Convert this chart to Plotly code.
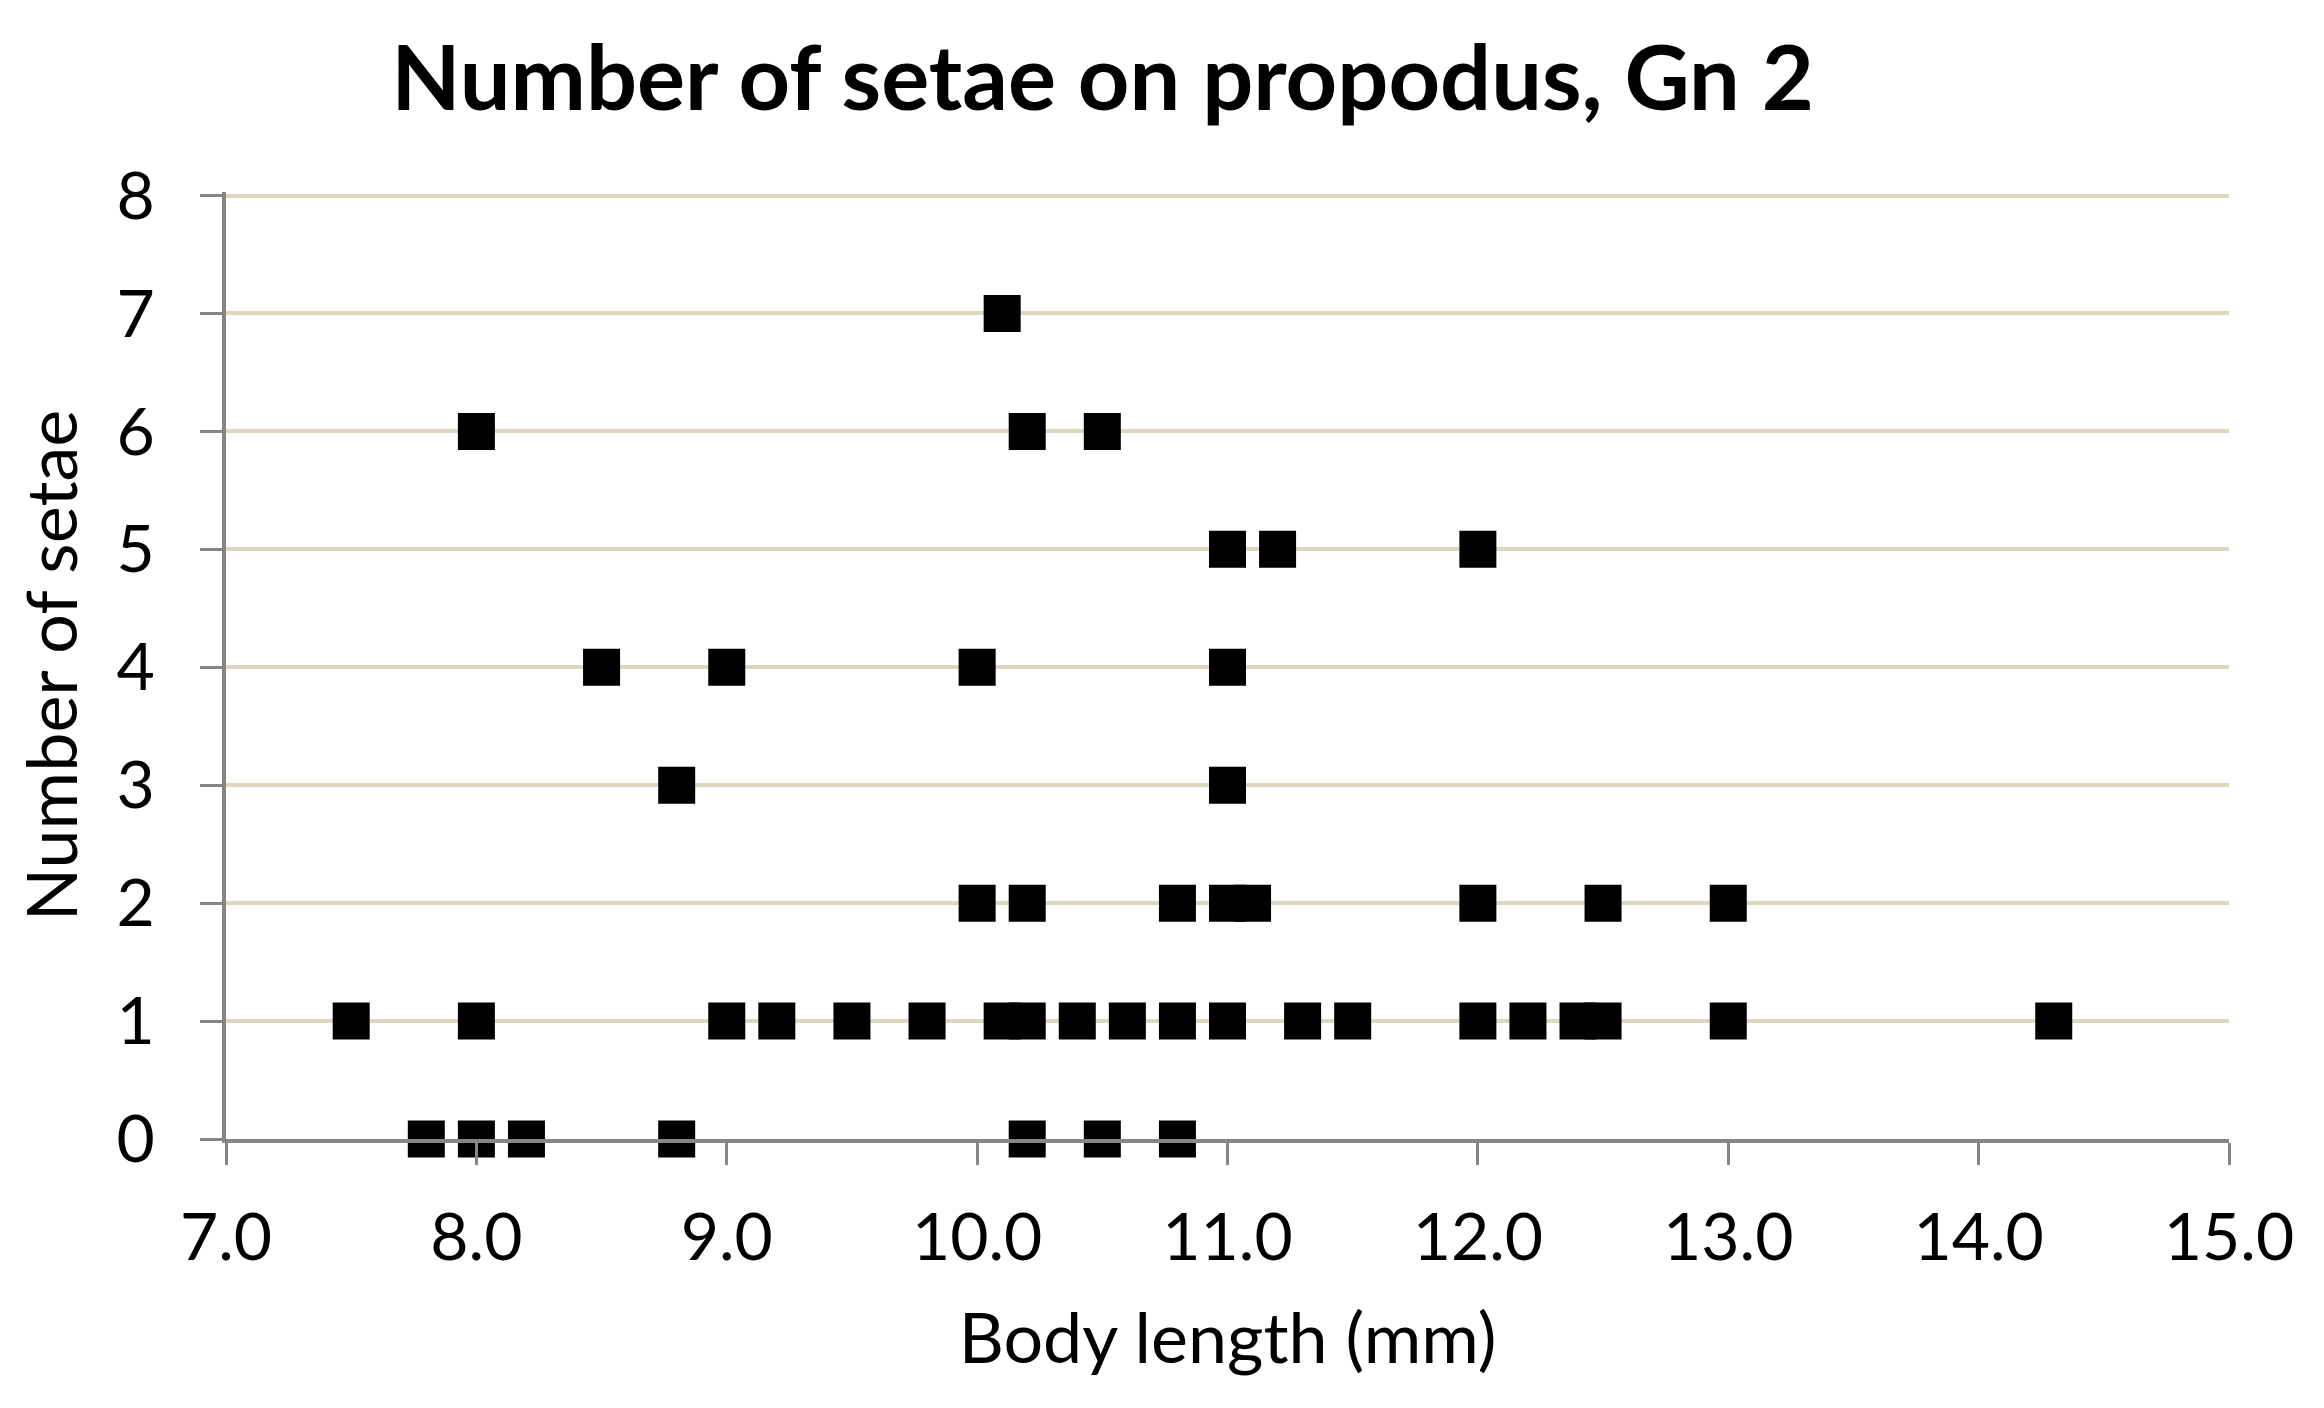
import plotly.graph_objects as go

# Data (body length in mm, number of setae)
setae_0_len = [7.8, 8.0, 8.2, 8.8, 10.2, 10.5, 10.8]
setae_1_len = [7.5, 8.0, 9.0, 9.2, 9.5, 9.8, 10.1, 10.2, 10.4, 10.6, 10.8, 11.0,
               11.3, 11.5, 12.0, 12.2, 12.4, 12.5, 13.0, 14.3]
setae_2_len = [10.0, 10.2, 10.8, 11.0, 11.1, 12.0, 12.5, 13.0]
setae_3_len = [8.8, 11.0]
setae_4_len = [8.5, 9.0, 10.0, 11.0]
setae_5_len = [11.0, 11.2, 12.0]
setae_6_len = [8.0, 10.2, 10.5]
setae_7_len = [10.1]

groups = [setae_0_len, setae_1_len, setae_2_len, setae_3_len,
          setae_4_len, setae_5_len, setae_6_len, setae_7_len]

body_length = []
n_setae = []
for count, lengths in enumerate(groups):
    for v in lengths:
        body_length.append(v)
        n_setae.append(count)

x_ticks = [7.0, 8.0, 9.0, 10.0, 11.0, 12.0, 13.0, 14.0, 15.0]
y_ticks = [0, 1, 2, 3, 4, 5, 6, 7, 8]

FONT = "Lato, Carlito, Open Sans, sans-serif"

fig = go.Figure()
fig.add_trace(go.Scatter(
    x=body_length, y=n_setae, mode="markers",
    marker=dict(symbol="square", size=34, color="black",
                line=dict(color="black", width=3)),
    cliponaxis=False, showlegend=False,
))

fig.update_layout(
    width=2324, height=1408,
    paper_bgcolor="white", plot_bgcolor="white",
    margin=dict(l=218, r=103, t=184, b=277),
    font=dict(family=FONT, color="black", size=66),
    title=dict(text="<b>Number of setae on propodus, Gn 2</b>",
               x=0.471, xanchor="center", y=0.950, yanchor="middle",
               font=dict(family=FONT, size=90, color="black")),
)

fig.update_xaxes(
    range=[7, 15], tickvals=x_ticks, ticktext=[f"{v:.1f}" for v in x_ticks],
    showgrid=False, zeroline=False,
    showline=True, linecolor="#868686", linewidth=4,
    ticks="outside", ticklen=22, tickwidth=3, tickcolor="#868686",
    tickfont=dict(size=66, family=FONT), ticklabelstandoff=16,
    title=dict(text="Body length (mm)", font=dict(size=70, family=FONT), standoff=42),
)
fig.update_yaxes(
    range=[0, 8.03], tickvals=y_ticks,
    showgrid=True, gridcolor="#DCD8BE", gridwidth=4, zeroline=False,
    showline=True, linecolor="#868686", linewidth=4,
    ticks="outside", ticklen=22, tickwidth=3, tickcolor="#868686",
    tickfont=dict(size=66, family=FONT), ticklabelstandoff=32,
    title=dict(text="Number of setae", font=dict(size=70, family=FONT), standoff=26),
)

fig.write_html("out.html")
